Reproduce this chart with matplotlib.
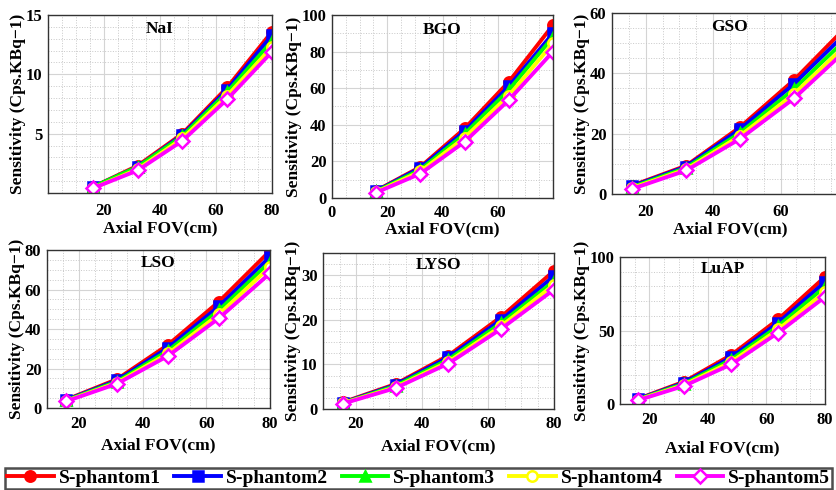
import matplotlib
matplotlib.use("Agg")
import matplotlib.pyplot as plt
from matplotlib.ticker import AutoMinorLocator

plt.rcParams['font.family'] = ['Liberation Serif', 'DejaVu Serif']
plt.rcParams['font.weight'] = 'bold'

fov = [16, 32, 48, 64, 80]
labels = ['S-phantom1', 'S-phantom2', 'S-phantom3', 'S-phantom4', 'S-phantom5']

nai = [[0.5, 2.3, 5.0, 8.9, 13.6],
       [0.5, 2.2, 4.9, 8.7, 13.3],
       [0.5, 2.2, 4.8, 8.5, 12.8],
       [0.4, 2.0, 4.6, 8.2, 12.3],
       [0.4, 1.9, 4.4, 7.9, 11.9]]
bgo = [[4.0, 17.0, 38.0, 63.5, 94.5],
       [3.8, 16.5, 36.5, 61.0, 90.0],
       [3.6, 15.5, 35.0, 59.0, 88.0],
       [3.3, 14.5, 33.0, 56.0, 84.5],
       [3.0, 13.3, 30.7, 53.5, 80.0]]
gso = [[2.8, 9.4, 22.2, 37.8, 56.0],
       [2.6, 9.1, 21.5, 36.5, 54.0],
       [2.3, 8.7, 20.3, 34.8, 52.0],
       [2.0, 8.2, 19.3, 33.2, 50.0],
       [1.7, 7.8, 18.3, 31.7, 48.3]]
lso = [[4.2, 14.6, 32.0, 53.9, 79.6],
       [4.0, 14.0, 30.5, 51.5, 76.6],
       [3.8, 13.4, 29.0, 49.5, 74.0],
       [3.6, 12.8, 27.6, 47.5, 71.5],
       [3.4, 12.3, 26.4, 45.5, 68.2]]
lyso = [[1.5, 5.6, 12.0, 20.7, 31.0],
        [1.4, 5.4, 11.6, 20.0, 29.8],
        [1.3, 5.2, 11.1, 19.3, 28.7],
        [1.3, 4.9, 10.6, 18.6, 27.9],
        [1.2, 4.7, 10.2, 18.0, 26.8]]
luap = [[3.4, 15.3, 33.4, 57.6, 86.5],
        [3.2, 14.6, 31.8, 55.3, 83.0],
        [3.0, 13.9, 30.2, 53.0, 79.7],
        [2.8, 13.1, 28.6, 50.7, 76.3],
        [2.5, 12.4, 27.0, 48.5, 72.9]]

colors = ['#ff0000', '#0000ff', '#00ff00', '#ffff00', '#ff00ff']
markers = ['o', 's', '^', 'o', 'D']
faces = ['#ff0000', '#0000ff', '#00ff00', 'white', 'white']

W, H = 836, 490
fig = plt.figure(figsize=(W / 100, H / 100), dpi=100)


def px_axes(left, top, right, bottom):
    return fig.add_axes([left / W, 1 - bottom / H, (right - left) / W, (bottom - top) / H])


# name, data, axes box in px (l, t, r, b), xlim, xticks, ylim, yticks,
# y minor divisions, x tick pad, x label pad
panels = [
    ('NaI', nai, (48, 15, 272, 193), (0, 80), [20, 40, 60, 80], (0, 15), [5, 10, 15], 5, 7, 1),
    ('BGO', bgo, (332, 15, 553, 198), (0, 80), [0, 20, 40, 60], (0, 100), [0, 20, 40, 60, 80, 100], 2, 5, 0),
    ('GSO', gso, (612, 13, 848, 194), (10, 80), [20, 40, 60], (0, 60), [0, 20, 40, 60], 4, 7, 1),
    ('LSO', lso, (47, 250, 270, 408), (10, 80), [20, 40, 60, 80], (0, 80), [0, 20, 40, 60, 80], 4, 6, 3.5),
    ('LYSO', lyso, (323, 253, 554, 409), (10, 80), [20, 40, 60, 80], (0, 35), [0, 10, 20, 30], 4, 5, 5),
    ('LuAP', luap, (620, 257, 825, 404), (10, 80), [20, 40, 60, 80], (0, 100), [0, 50, 100], 5, 6, 9),
]

handles = []
for name, data, box, xl, xt, yl, yt, ymin_div, xpad, xlpad in panels:
    ax = px_axes(*box)
    handles = []
    for i in range(5):
        h, = ax.plot(fov, data[i], color=colors[i], marker=markers[i],
                     markerfacecolor=faces[i], markeredgecolor=colors[i],
                     markeredgewidth=1.8, markersize=7.5, linewidth=2.8,
                     label=labels[i])
        handles.append(h)
    ax.set_xlim(*xl)
    ax.set_ylim(*yl)
    ax.set_xticks(xt)
    ax.set_yticks(yt)
    ax.xaxis.set_minor_locator(AutoMinorLocator(4))
    ax.yaxis.set_minor_locator(AutoMinorLocator(ymin_div))
    ax.grid(which='major', color='#d4d4d4', linewidth=0.8, linestyle='-')
    ax.grid(which='minor', color='#c8c8c8', linewidth=0.7, linestyle=':')
    ax.set_axisbelow(True)
    ax.tick_params(which='both', direction='in', length=0, labelsize=12)
    ax.tick_params(axis='x', pad=xpad)
    ax.tick_params(axis='y', pad=4)
    for lab in ax.get_xticklabels() + ax.get_yticklabels():
        lab.set_fontweight('bold')
    for s in ax.spines.values():
        s.set_linewidth(1.0)
        s.set_color('#333333')
    ax.set_xlabel('Axial FOV(cm)', fontsize=12.5, fontweight='bold', labelpad=xlpad)
    ax.set_ylabel('Sensitivity (Cps.KBq\u22121)', fontsize=12.5, fontweight='bold', labelpad=0)
    ax.text(0.5, 0.92, name, transform=ax.transAxes, ha='center', va='center',
            fontsize=12.5, fontweight='bold')

leg = fig.legend(handles=handles, loc='lower left', ncol=5,
                 bbox_to_anchor=(5 / W, 1 / H, 827 / W, 22 / H),
                 prop={'size': 14, 'weight': 'bold'}, frameon=True, fancybox=False,
                 edgecolor='#222222', handlelength=2.4, columnspacing=0.6,
                 handletextpad=0.25, borderpad=0.1, borderaxespad=0.0, mode='expand')
leg.get_frame().set_linewidth(1.8)

fig.savefig('out.png', dpi=100)
